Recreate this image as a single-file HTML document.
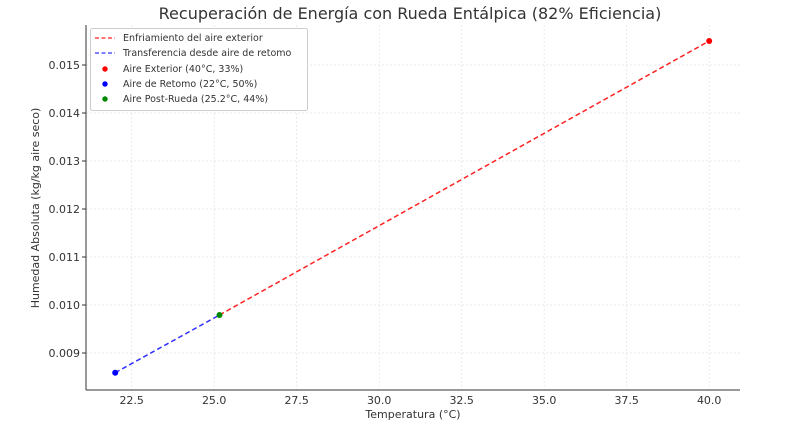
<!DOCTYPE html>
<html><head><meta charset="utf-8"><style>
body{margin:0;background:#fff;}
svg text{font-family:"DejaVu Sans","Liberation Sans",sans-serif;fill:#333;}
</style></head><body>
<svg width="800" height="423" xmlns="http://www.w3.org/2000/svg">
<rect width="800" height="423" fill="#fff"/>
<text x="410" y="19" font-size="16" text-anchor="middle" fill="#444">Recuperación de Energía con Rueda Entálpica (82% Eficiencia)</text>
<g stroke="#e4e4e4" stroke-width="0.8" stroke-dasharray="2,2">
<line x1="131.7" y1="25" x2="131.7" y2="390"/><line x1="214.2" y1="25" x2="214.2" y2="390"/><line x1="296.7" y1="25" x2="296.7" y2="390"/><line x1="379.2" y1="25" x2="379.2" y2="390"/><line x1="461.7" y1="25" x2="461.7" y2="390"/><line x1="544.2" y1="25" x2="544.2" y2="390"/><line x1="626.7" y1="25" x2="626.7" y2="390"/><line x1="709.2" y1="25" x2="709.2" y2="390"/>
<line x1="86" y1="65" x2="740" y2="65"/><line x1="86" y1="113" x2="740" y2="113"/><line x1="86" y1="161" x2="740" y2="161"/><line x1="86" y1="209" x2="740" y2="209"/><line x1="86" y1="257" x2="740" y2="257"/><line x1="86" y1="305" x2="740" y2="305"/><line x1="86" y1="353" x2="740" y2="353"/>
</g>
<line x1="86" y1="25" x2="86" y2="390" stroke="#333" stroke-width="1"/>
<line x1="86" y1="390" x2="740" y2="390" stroke="#333" stroke-width="1"/>
<g font-size="11" text-anchor="end">
<text x="80" y="69">0.015</text><text x="80" y="117">0.014</text><text x="80" y="165">0.013</text><text x="80" y="213">0.012</text><text x="80" y="261">0.011</text><text x="80" y="309">0.010</text><text x="80" y="357">0.009</text>
</g>
<g stroke="#333"><line x1="82" y1="65" x2="86" y2="65"/><line x1="82" y1="113" x2="86" y2="113"/><line x1="82" y1="161" x2="86" y2="161"/><line x1="82" y1="209" x2="86" y2="209"/><line x1="82" y1="257" x2="86" y2="257"/><line x1="82" y1="305" x2="86" y2="305"/><line x1="82" y1="353" x2="86" y2="353"/></g>
<g font-size="11" text-anchor="middle">
<text x="131.7" y="404">22.5</text><text x="214.2" y="404">25.0</text><text x="296.7" y="404">27.5</text><text x="379.2" y="404">30.0</text><text x="461.7" y="404">32.5</text><text x="544.2" y="404">35.0</text><text x="626.7" y="404">37.5</text><text x="709.2" y="404">40.0</text>
</g>
<text x="413" y="418" font-size="11" text-anchor="middle">Temperatura (°C)</text>
<text transform="translate(39,208) rotate(-90)" font-size="11" text-anchor="middle">Humedad Absoluta (kg/kg aire seco)</text>
<line x1="219.5" y1="315" x2="709.2" y2="41" stroke="#ff2222" stroke-width="1.5" stroke-dasharray="5,3"/>
<line x1="115.2" y1="372.7" x2="219.5" y2="315" stroke="#3333ff" stroke-width="1.5" stroke-dasharray="5,3"/>
<circle cx="709.2" cy="41" r="3" fill="#f00"/>
<circle cx="115.2" cy="372.7" r="3" fill="#00f"/>
<circle cx="219.5" cy="315" r="3" fill="#080"/>
<rect x="90.5" y="28.5" width="217" height="82" fill="#fff" stroke="#ccc" rx="2"/>
<g font-size="9.5">
<line x1="95" y1="38" x2="115" y2="38" stroke="#f22" stroke-width="1.3" stroke-dasharray="4,2.5"/><text x="123" y="41">Enfriamiento del aire exterior</text>
<line x1="95" y1="53" x2="115" y2="53" stroke="#33f" stroke-width="1.3" stroke-dasharray="4,2.5"/><text x="123" y="56">Transferencia desde aire de retomo</text>
<circle cx="105" cy="69" r="2.7" fill="#f00"/><text x="123" y="72">Aire Exterior (40°C, 33%)</text>
<circle cx="105" cy="84" r="2.7" fill="#00f"/><text x="123" y="87">Aire de Retomo (22°C, 50%)</text>
<circle cx="105" cy="99" r="2.7" fill="#080"/><text x="123" y="102">Aire Post-Rueda (25.2°C, 44%)</text>
</g>
</svg>
</body></html>
